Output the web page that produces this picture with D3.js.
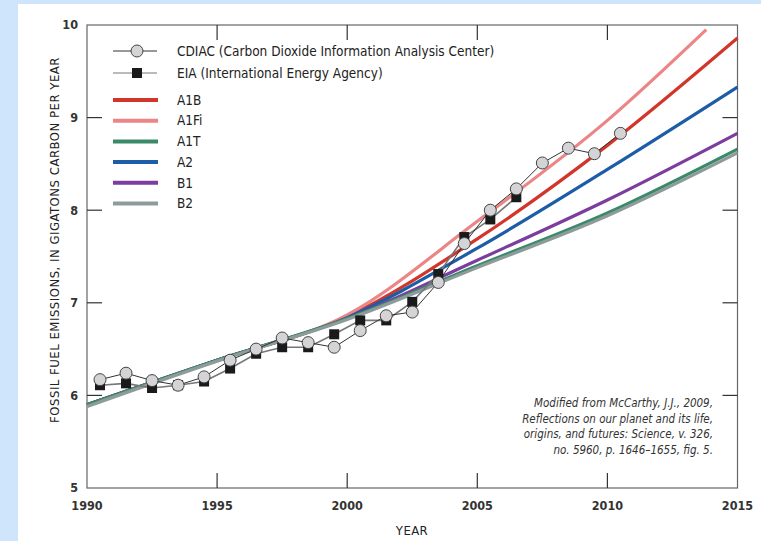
<!DOCTYPE html>
<html>
<head>
<meta charset="utf-8">
<script src="https://cdn.jsdelivr.net/npm/d3@7"></script>
<style>
  html, body { margin: 0; padding: 0; background: #cfe5fc; }
  #chart { position: absolute; left: 18px; top: 4px; width: 743px; height: 537px; background: #fff; }
  svg { position: absolute; left: 0; top: 0; }
</style>
</head>
<body>
<div id="chart"></div>
<script>
// observed series (mid-year points)
const cdiacYears = [1990.5, 1991.5, 1992.5, 1993.5, 1994.5, 1995.5, 1996.5, 1997.5, 1998.5, 1999.5,
                    2000.5, 2001.5, 2002.5, 2003.5, 2004.5, 2005.5, 2006.5, 2007.5, 2008.5, 2009.5, 2010.5];
const cdiacValues = [6.17, 6.24, 6.16, 6.11, 6.20, 6.38, 6.50, 6.62, 6.57, 6.52,
                     6.70, 6.86, 6.90, 7.22, 7.64, 8.00, 8.23, 8.51, 8.67, 8.61, 8.83];
const eiaYears = [1990.5, 1991.5, 1992.5, 1993.5, 1994.5, 1995.5, 1996.5, 1997.5, 1998.5,
                  1999.5, 2000.5, 2001.5, 2002.5, 2003.5, 2004.5, 2005.5, 2006.5];
const eiaValues = [6.11, 6.13, 6.08, 6.11, 6.15, 6.29, 6.45, 6.52, 6.52,
                   6.66, 6.81, 6.81, 7.01, 7.31, 7.71, 7.90, 8.14];

// IPCC scenario curves
const scenarioNames = ["A1B", "A1Fi", "A1T", "A2", "B1", "B2"];
const scenarioColors = ["#d2362b", "#ec8585", "#3a8a68", "#1d5ca6", "#7b3d9e", "#8d9b9b"];
const scenarioYears = [1990, 1995, 2000, 2005, 2010, 2015];
const a1bValues  = [5.90, 6.38, 6.85, 7.69, 8.70, 9.86];
const a1fiYears  = [1990, 1995, 2000, 2005, 2010, 2013.8];
const a1fiValues = [5.90, 6.38, 6.87, 7.88, 8.97, 9.95];
const a1tValues  = [5.90, 6.38, 6.83, 7.40, 7.97, 8.66];
const a2Values   = [5.90, 6.38, 6.84, 7.59, 8.44, 9.33];
const b1Values   = [5.90, 6.38, 6.83, 7.46, 8.11, 8.83];
const b2Values   = [5.88, 6.37, 6.82, 7.38, 7.94, 8.62];

const xTicks = [1990, 1995, 2000, 2005, 2010, 2015];
const yTicks = [5, 6, 7, 8, 9, 10];
const sourceNote = [
  "Modified from McCarthy, J.J., 2009,",
  "Reflections on our planet and its life,",
  "origins, and futures: Science, v. 326,",
  "no. 5960, p. 1646\u20131655, fig. 5."
];

const font = "'Liberation Sans Narrow', 'DejaVu Sans Condensed', sans-serif";
const W = 743, H = 537;
const m = { left: 69, top: 21 };
const pw = 650.5, ph = 463;

const svg = d3.select("#chart").append("svg")
    .attr("width", W)
    .attr("height", H);

const g = svg.append("g").attr("transform", `translate(${m.left},${m.top})`);

const x = d3.scaleLinear().domain([1990, 2015]).range([0, pw]);
const y = d3.scaleLinear().domain([5, 10]).range([ph, 0]);

// frame
g.append("rect")
    .attr("width", pw).attr("height", ph)
    .attr("fill", "none").attr("stroke", "#666").attr("stroke-width", 1.2);

// inward ticks on all four sides
const tickLen = 15;
const inner = [1995, 2000, 2005, 2010];
g.append("g").selectAll("line.xb").data(inner).join("line")
    .attr("x1", d => x(d)).attr("x2", d => x(d))
    .attr("y1", ph).attr("y2", ph - tickLen)
    .attr("stroke", "#333").attr("stroke-width", 1.2);
g.append("g").selectAll("line.xt").data(inner).join("line")
    .attr("x1", d => x(d)).attr("x2", d => x(d))
    .attr("y1", 0).attr("y2", tickLen)
    .attr("stroke", "#333").attr("stroke-width", 1.2);
const innerY = [6, 7, 8, 9];
g.append("g").selectAll("line.yl").data(innerY).join("line")
    .attr("x1", 0).attr("x2", tickLen)
    .attr("y1", d => y(d)).attr("y2", d => y(d))
    .attr("stroke", "#333").attr("stroke-width", 1.2);
g.append("g").selectAll("line.yr").data(innerY).join("line")
    .attr("x1", pw).attr("x2", pw - tickLen)
    .attr("y1", d => y(d)).attr("y2", d => y(d))
    .attr("stroke", "#333").attr("stroke-width", 1.2);

// tick labels
g.append("g").selectAll("text").data(xTicks).join("text")
    .attr("x", d => x(d)).attr("y", ph + 22)
    .attr("text-anchor", "middle")
    .style("font", `bold 12.5px ${font}`).attr("fill", "#333")
    .text(d => d);
g.append("g").selectAll("text").data(yTicks).join("text")
    .attr("x", -9).attr("y", d => y(d)).attr("dy", "0.35em")
    .attr("text-anchor", "end")
    .style("font", `bold 12.5px ${font}`).attr("fill", "#333")
    .text(d => d);

// axis titles
g.append("text")
    .attr("x", 325).attr("y", ph + 47)
    .attr("text-anchor", "middle")
    .style("font", `13px ${font}`).style("letter-spacing", "0.4px").attr("fill", "#222")
    .text("YEAR");
g.append("text")
    .attr("transform", `translate(-28,215) rotate(-90)`)
    .attr("text-anchor", "middle")
    .style("font", `13px ${font}`).style("letter-spacing", "0.5px").attr("fill", "#222")
    .text("FOSSIL FUEL EMISSIONS, IN GIGATONS CARBON PER YEAR");

// scenario lines
const scenarios = [
  { name: "A1B", years: scenarioYears, values: a1bValues },
  { name: "A1Fi", years: a1fiYears, values: a1fiValues },
  { name: "A2", years: scenarioYears, values: a2Values },
  { name: "B1", years: scenarioYears, values: b1Values },
  { name: "A1T", years: scenarioYears, values: a1tValues },
  { name: "B2", years: scenarioYears, values: b2Values }
];
const color = d3.scaleOrdinal().domain(scenarioNames).range(scenarioColors);
const line = d3.line().x(d => x(d[0])).y(d => y(d[1])).curve(d3.curveMonotoneX);

g.append("g").selectAll("path").data(scenarios).join("path")
    .attr("d", s => line(s.years.map((yr, i) => [yr, s.values[i]])))
    .attr("fill", "none")
    .attr("stroke", s => color(s.name))
    .attr("stroke-width", 3.2);

// observed data
const eia = eiaYears.map((yr, i) => [yr, eiaValues[i]]);
const cdiac = cdiacYears.map((yr, i) => [yr, cdiacValues[i]]);
const lin = d3.line().x(d => x(d[0])).y(d => y(d[1]));

g.append("path").attr("d", lin(eia))
    .attr("fill", "none").attr("stroke", "#777").attr("stroke-width", 1.6);
g.append("path").attr("d", lin(cdiac))
    .attr("fill", "none").attr("stroke", "#333").attr("stroke-width", 1);

const sq = 10;
g.append("g").selectAll("rect").data(eia).join("rect")
    .attr("x", d => x(d[0]) - sq / 2).attr("y", d => y(d[1]) - sq / 2)
    .attr("width", sq).attr("height", sq)
    .attr("fill", "#1a1a1a");
g.append("g").selectAll("circle").data(cdiac).join("circle")
    .attr("cx", d => x(d[0])).attr("cy", d => y(d[1]))
    .attr("r", 6)
    .attr("fill", "#d4d4d6").attr("stroke", "#444").attr("stroke-width", 1);

// legend
const lg = g.append("g").attr("transform", "translate(26,26)");
lg.append("line").attr("x1", 0).attr("x2", 44).attr("y1", 0).attr("y2", 0)
    .attr("stroke", "#333").attr("stroke-width", 1);
lg.append("circle").attr("cx", 24).attr("cy", 0).attr("r", 6)
    .attr("fill", "#d4d4d6").attr("stroke", "#444");
lg.append("line").attr("x1", 0).attr("x2", 44).attr("y1", 22).attr("y2", 22)
    .attr("stroke", "#777").attr("stroke-width", 1);
lg.append("rect").attr("x", 19).attr("y", 17).attr("width", sq).attr("height", sq)
    .attr("fill", "#1a1a1a");
lg.append("text").attr("x", 64).attr("y", 0).attr("dy", "0.35em")
    .style("font", `13.5px ${font}`).attr("fill", "#222")
    .text("CDIAC (Carbon Dioxide Information Analysis Center)");
lg.append("text").attr("x", 64).attr("y", 22).attr("dy", "0.35em")
    .style("font", `13.5px ${font}`).attr("fill", "#222")
    .text("EIA (International Energy Agency)");

const items = lg.selectAll("g.item").data(scenarioNames).join("g")
    .attr("transform", (d, i) => `translate(0,${49 + i * 20.7})`);
items.append("line").attr("x1", 0).attr("x2", 45)
    .attr("stroke", d => color(d)).attr("stroke-width", 4);
items.append("text").attr("x", 64).attr("dy", "0.35em")
    .style("font", `13.5px ${font}`).attr("fill", "#222")
    .text(d => d);

// source note
g.append("g").selectAll("text").data(sourceNote).join("text")
    .attr("x", 626).attr("y", (d, i) => 378 + i * 15.6)
    .attr("dy", "0.35em")
    .attr("text-anchor", "end")
    .style("font", `italic 11.5px ${font}`).attr("fill", "#333")
    .text(d => d);
</script>
</body>
</html>
